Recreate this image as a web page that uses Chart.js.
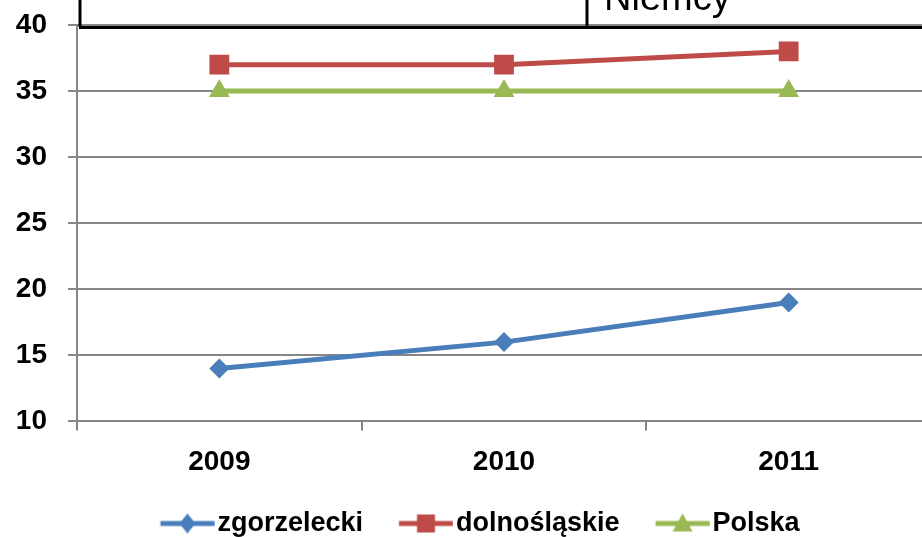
<!DOCTYPE html>
<html>
<head>
<meta charset="utf-8">
<script src="https://cdn.jsdelivr.net/npm/chart.js@4.4.0/dist/chart.umd.min.js"></script>
<style>
  html, body { margin: 0; padding: 0; overflow: hidden; background: #fff; }
  #chart { position: absolute; left: 0; top: 0; }
</style>
</head>
<body>
<canvas id="chart" width="945" height="537"></canvas>
<script>
// data
const years = ['2009', '2010', '2011'];
const zgorzelecki = [14, 16, 19];
const dolnoslaskie = [37, 37, 38];
const polska = [35, 35, 35];
const yTicks = [10, 15, 20, 25, 30, 35, 40];

const BLUE = '#4A7EBB';
const RED = '#BE4B48';
const GREEN = '#98B954';
const GRID = '#868686';
const FONT = "'Liberation Sans', Arial, sans-serif";

// legend symbol: short line with the marker in the middle
function legendIcon(color, style) {
    const c = document.createElement('canvas');
    c.width = 101;
    c.height = 24;
    const ctx = c.getContext('2d');
    const x0 = 46.75, x1 = 100.75, cx = (x0 + x1) / 2, cy = 12;
    ctx.strokeStyle = color;
    ctx.fillStyle = color;
    ctx.lineWidth = 5;
    ctx.beginPath();
    ctx.moveTo(x0, cy);
    ctx.lineTo(x1, cy);
    ctx.stroke();
    ctx.beginPath();
    if (style === 'diamond') {
        ctx.moveTo(cx - 8, cy); ctx.lineTo(cx, cy - 10);
        ctx.lineTo(cx + 8, cy); ctx.lineTo(cx, cy + 10);
    } else if (style === 'square') {
        ctx.rect(cx - 9, cy - 9, 18, 18);
    } else {
        ctx.moveTo(cx, cy - 10); ctx.lineTo(cx + 10, cy + 8); ctx.lineTo(cx - 10, cy + 8);
    }
    ctx.closePath();
    ctx.fill();
    return c;
}

const icons = [legendIcon(BLUE, 'diamond'), legendIcon(RED, 'square'), legendIcon(GREEN, 'triangle')];

// table border and "Niemcy" header cut off above the plot
const tableBox = {
    id: 'tableBox',
    afterLayout(chart) {
        // legend sits a bit left of the plot centre in the original
        chart.legend.left -= 14.5;
        chart.legend.right -= 14.5;
    },
    afterDraw(chart) {
        const ctx = chart.ctx;
        const a = chart.chartArea;
        ctx.save();
        ctx.strokeStyle = '#000';
        ctx.lineWidth = 3;
        ctx.beginPath();
        ctx.moveTo(a.left + 2, a.top + 2.5);
        ctx.lineTo(chart.width, a.top + 2.5);
        ctx.moveTo(a.left + 3, 0);
        ctx.lineTo(a.left + 3, a.top + 2);
        ctx.moveTo(a.left + 510, 0);
        ctx.lineTo(a.left + 510, a.top + 2);
        ctx.stroke();
        ctx.fillStyle = '#000';
        ctx.font = "38px " + FONT;
        ctx.textBaseline = 'alphabetic';
        ctx.fillText('Niemcy', a.left + 527, 10);
        ctx.restore();
    }
};

new Chart(document.getElementById('chart'), {
    type: 'line',
    data: {
        labels: years,
        datasets: [
            {
                label: 'zgorzelecki',
                data: zgorzelecki,
                borderColor: BLUE,
                backgroundColor: BLUE,
                pointStyle: 'rectRot',
                pointRadius: 10,
                pointHoverRadius: 10,
                pointBorderWidth: 0,
                borderWidth: 5
            },
            {
                label: 'dolnośląskie',
                data: dolnoslaskie,
                borderColor: RED,
                backgroundColor: RED,
                pointStyle: 'rect',
                pointRadius: 14,
                pointHoverRadius: 14,
                pointBorderWidth: 0,
                borderWidth: 5
            },
            {
                label: 'Polska',
                data: polska,
                borderColor: GREEN,
                backgroundColor: GREEN,
                pointStyle: 'triangle',
                pointRadius: 12,
                pointHoverRadius: 12,
                pointBorderWidth: 0,
                borderWidth: 5
            }
        ]
    },
    options: {
        responsive: false,
        animation: false,
        layout: {
            padding: { left: 15, right: 7, top: 25, bottom: -10 }
        },
        plugins: {
            tooltip: { enabled: false },
            legend: {
                position: 'bottom',
                labels: {
                    usePointStyle: true,
                    pointStyleWidth: 79.5,
                    padding: 0,
                    color: '#000',
                    font: { family: FONT, size: 27, weight: 'bold' },
                    generateLabels(chart) {
                        return chart.data.datasets.map((ds, i) => ({
                            text: ds.label,
                            pointStyle: icons[i],
                            fillStyle: ds.borderColor,
                            strokeStyle: ds.borderColor,
                            lineWidth: 0,
                            hidden: false,
                            datasetIndex: i,
                            fontColor: '#000'
                        }));
                    }
                }
            }
        },
        scales: {
            x: {
                offset: true,
                afterFit(axis) {
                    axis.height += 16;
                    axis.paddingLeft = 0;
                    axis.paddingRight = 0;
                },
                grid: {
                    offset: true,
                    drawOnChartArea: false,
                    color: GRID,
                    lineWidth: 2,
                    tickLength: 9
                },
                border: { color: GRID, width: 2 },
                ticks: {
                    color: '#000',
                    padding: 15,
                    font: { family: FONT, size: 28, weight: 'bold' }
                }
            },
            y: {
                min: 10,
                max: 40,
                afterBuildTicks(axis) {
                    axis.ticks = yTicks.map(v => ({ value: v }));
                },
                afterFit(axis) {
                    axis.width = 62;
                    axis.paddingTop = 0;
                    axis.paddingBottom = 0;
                },
                grid: {
                    color: GRID,
                    lineWidth: 2,
                    tickLength: 9
                },
                border: { color: GRID, width: 2 },
                ticks: {
                    color: '#000',
                    padding: 21,
                    font: { family: FONT, size: 28, weight: 'bold' }
                }
            }
        }
    },
    plugins: [tableBox]
});
</script>
</body>
</html>
